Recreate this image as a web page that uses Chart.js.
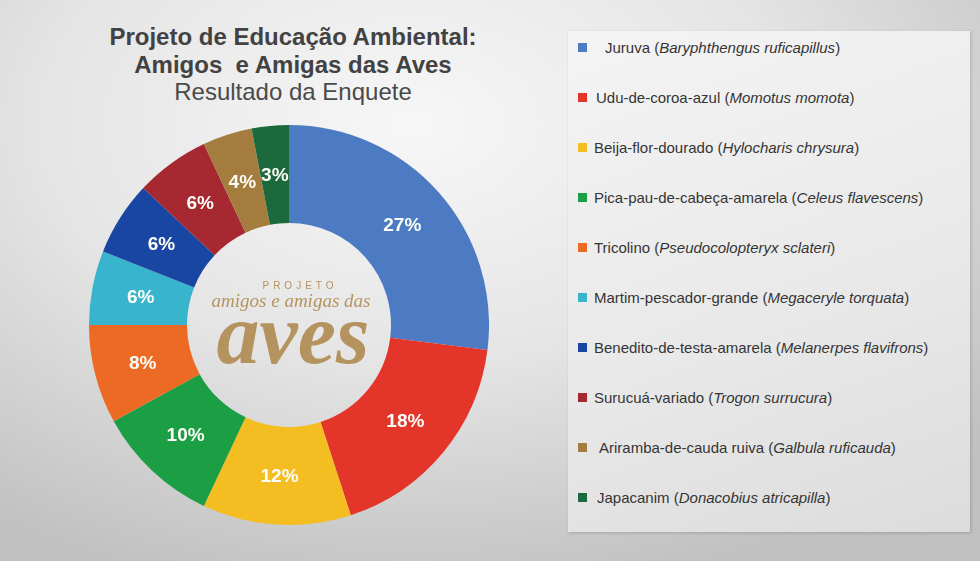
<!DOCTYPE html>
<html lang="pt-BR">
<head>
    <meta charset="UTF-8">
    <meta name="viewport" content="width=device-width, initial-scale=1.0">
    <title>Amigos e Amigas das Aves</title>
    <style>
        html, body{
            margin: 0;
            padding: 0;
        }
        body{
            width: 980px;
            height: 561px;
            overflow: hidden;
            position: relative;
            font-family: "Liberation Sans", Arial, sans-serif;
            background: radial-gradient(ellipse 75% 85% at 42% 22%, #f7f7f7 0%, #e5e5e5 50%, #c1c1c1 100%);
        }
        .titulo{
            position: absolute;
            left: 0;
            top: 23px;
            width: 586px;
            text-align: center;
            color: #424242;
            font-size: 24px;
            line-height: 27.5px;
        }
        .titulo b{
            font-weight: bold;
        }
        .titulo span{
            color: #4a4a4a;
        }
        .chart{
            position: absolute;
            left: 89px;
            top: 125px;
            width: 400px;
            height: 400px;
        }
        .legenda{
            position: absolute;
            left: 568px;
            top: 31px;
            width: 402px;
            height: 501px;
            background: linear-gradient(160deg, #f4f4f4 0%, #e9e9e9 55%, #dcdcdc 100%);
            box-shadow: 1px 1px 3px rgba(0,0,0,0.18);
        }
        .legenda ul{
            list-style: none;
            margin: 0;
            padding: 0;
            position: absolute;
            left: 10px;
            top: -9px;
        }
        .legenda li{
            height: 50px;
            display: flex;
            align-items: center;
            font-size: 15px;
            color: #353535;
            white-space: nowrap;
        }
        .legenda .caixa{
            display: inline-block;
            width: 9px;
            height: 9px;
            margin-right: 7px;
            flex: none;
        }
        .legenda li:nth-child(1) .caixa{ margin-right: 18px; }
        .legenda li:nth-child(2) .caixa{ margin-right: 9px; }
        .legenda li:nth-child(9) .caixa{ margin-right: 12px; }
        .legenda li:nth-child(10) .caixa{ margin-right: 10px; }
    </style>
</head>
<body>
    <div class="titulo">
        <b>Projeto de Educação Ambiental:<br>Amigos&nbsp; e Amigas das Aves</b><br><span>Resultado da Enquete</span>
    </div>
    <div class="chart">
        <canvas id="myChart"></canvas>
    </div>
    <div class="legenda"><ul id="legendList"></ul></div>

    <script src="https://cdn.jsdelivr.net/npm/chart.js@4.4.1/dist/chart.umd.min.js"></script>
    <script>
const especies = ["Juruva", "Udu-de-coroa-azul", "Beija-flor-dourado", "Pica-pau-de-cabeça-amarela", "Tricolino",
    "Martim-pescador-grande", "Benedito-de-testa-amarela", "Surucuá-variado", "Ariramba-de-cauda ruiva", "Japacanim"];
const nomesCientificos = ["Baryphthengus ruficapillus", "Momotus momota", "Hylocharis chrysura", "Celeus flavescens",
    "Pseudocolopteryx sclateri", "Megaceryle torquata", "Melanerpes flavifrons", "Trogon surrucura",
    "Galbula ruficauda", "Donacobius atricapilla"];
const percentuais = [27, 18, 12, 10, 8, 6, 6, 6, 4, 3];
const cores = ["#4c7bc4", "#e4352a", "#f4bd21", "#1c9e45", "#ec6a23", "#38b4cc", "#1a46a3", "#a62830", "#a47c3e", "#1c693d"];

// legenda em html (nome popular + nome cientifico em italico)
const lista = document.getElementById("legendList");
especies.forEach((nome, i) => {
    const li = document.createElement("li");
    const caixa = document.createElement("span");
    caixa.className = "caixa";
    caixa.style.background = cores[i];
    li.appendChild(caixa);
    const txt = document.createElement("span");
    txt.innerHTML = nome + " (<i>" + nomesCientificos[i] + "</i>)";
    li.appendChild(txt);
    lista.appendChild(li);
});

// rotulos de porcentagem dentro das fatias
const rotulos = {
    id: "rotulos",
    afterDatasetsDraw(chart) {
        const ctx = chart.ctx;
        const meta = chart.getDatasetMeta(0);
        ctx.save();
        ctx.font = "bold 19px 'Liberation Sans', Arial, sans-serif";
        ctx.fillStyle = "#fdfdf8";
        ctx.textAlign = "center";
        ctx.textBaseline = "middle";
        meta.data.forEach((arc, i) => {
            const p = arc.tooltipPosition();
            ctx.fillText(chart.data.datasets[0].data[i] + "%", p.x, p.y + 1);
        });
        ctx.restore();
    }
};

// logotipo no centro da rosca
const logo = {
    id: "logo",
    afterDraw(chart) {
        const ctx = chart.ctx;
        const a = chart.chartArea;
        const cx = (a.left + a.right) / 2;
        const cy = (a.top + a.bottom) / 2;
        ctx.save();
        ctx.fillStyle = "#b4935f";
        ctx.textAlign = "center";
        ctx.textBaseline = "alphabetic";
        ctx.font = "10px 'Liberation Sans', Arial, sans-serif";
        ctx.letterSpacing = "4px";
        ctx.fillText("PROJETO", cx + 11, cy - 36);
        ctx.letterSpacing = "0px";
        ctx.font = "italic 19px 'Liberation Serif', serif";
        ctx.fillText("amigos e amigas das", cx + 2, cy - 18);
        ctx.font = "bold italic 86px 'Liberation Serif', serif";
        ctx.fillText("aves", cx + 4, cy + 38);
        ctx.restore();
    }
};

const ctx = document.getElementById("myChart").getContext("2d");

const data = {
    labels: especies,
    datasets: [
        {
            data: percentuais,
            backgroundColor: cores,
            borderWidth: 0,
            hoverOffset: 0,
        },
    ],
};

const config = {
    type: "doughnut",
    data: data,
    options: {
        responsive: true,
        maintainAspectRatio: false,
        animation: false,
        cutout: "51%",
        layout: { padding: 0 },
        plugins: {
            legend: { display: false },
            tooltip: { enabled: false },
        },
    },
    plugins: [rotulos, logo],
};

const myChart = new Chart(ctx, config);
    </script>
</body>
</html>
